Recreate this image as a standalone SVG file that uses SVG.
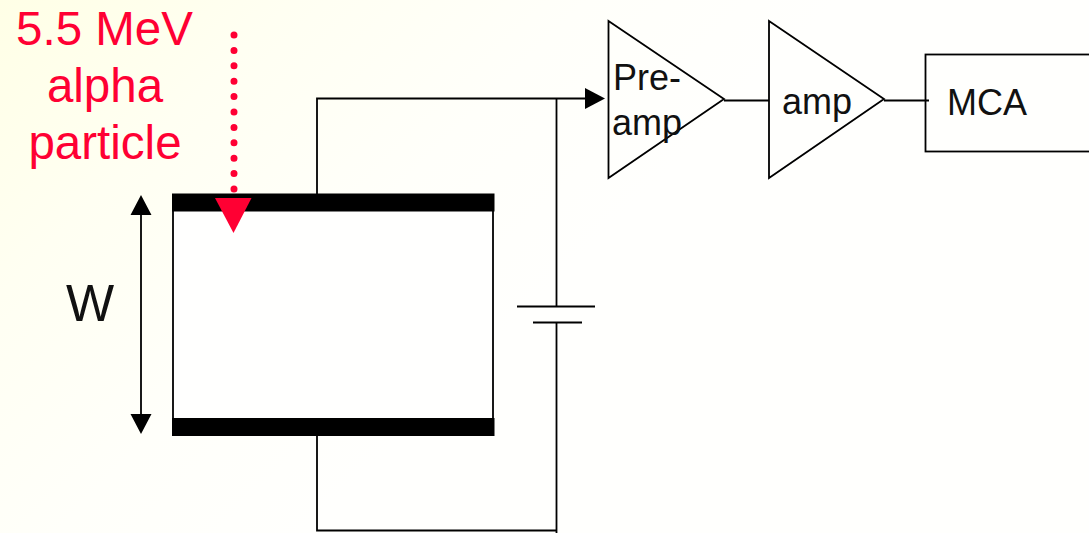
<svg xmlns="http://www.w3.org/2000/svg" width="1089" height="533" viewBox="0 0 1089 533">
<style>
.w{fill:none;stroke:#000;stroke-width:1.800}
.t{font-family:"Liberation Sans",Arial,sans-serif;font-size:36px;fill:#111}
.r{font-family:"Liberation Sans",Arial,sans-serif;font-size:47.500px;fill:#ff0033;text-anchor:middle}
</style>
<defs><linearGradient id="bg" gradientUnits="userSpaceOnUse" x1="0" y1="0" x2="420" y2="420"><stop offset="0" stop-color="#ffffe6"/><stop offset=".35" stop-color="#fffff2"/><stop offset=".7" stop-color="#fffffa"/><stop offset="1" stop-color="#fffffd"/></linearGradient></defs>
<rect width="1089" height="533" fill="url(#bg)"/>
<g id="connectors">
<path class="w" d="M317 194V98.500H586M556.500 98V306M556.500 322V533M317 436V530.500H557M724 100.500H769M884 100.500H929"/>
<path d="M585 88L605 98.500L585 109Z"/>
<path class="w" d="M141 212V418"/>
<path d="M141 195L151.500 215H130.500ZM141 434L130.500 414H151.500Z"/>
<path d="M234 35V190" fill="none" stroke="#ff0033" stroke-width="7" stroke-linecap="round" stroke-dasharray="0 15.400"/>
</g>
<g id="detector">
<rect x="173" y="203" width="320" height="224" fill="#fffffe" stroke="#000" stroke-width="1.800"/>
<rect x="172" y="193.500" width="322.500" height="18"/>
<rect x="172" y="418" width="322.500" height="18"/>
</g>
<g id="alpha-head"><path d="M215 198H251.500L233.500 233Z" fill="#ff0033"/></g>
<g id="alpha-label"><text class="r" x="104.500" y="45">5.5 MeV</text><text class="r" x="105" y="102">alpha</text><text class="r" x="105" y="159">particle</text></g>
<g id="width-label"><text x="90" y="321" font-family="Liberation Sans,Arial,sans-serif" font-size="51" fill="#111" text-anchor="middle">W</text></g>
<g id="battery"><path class="w" d="M517 306.500H595M533 322.500H582"/></g>
<g id="preamp"><path class="w" d="M608.500 21L724 99L608.500 178Z"/><text class="t" x="613" y="89.500">Pre-</text><text class="t" x="612" y="134.500">amp</text></g>
<g id="amp"><path class="w" d="M769 21L884 99L769 178Z"/><text class="t" x="782" y="113.500">amp</text></g>
<g id="mca"><rect class="w" x="925.500" y="54.500" width="180" height="97"/><text class="t" x="947" y="115">MCA</text></g>
</svg>
